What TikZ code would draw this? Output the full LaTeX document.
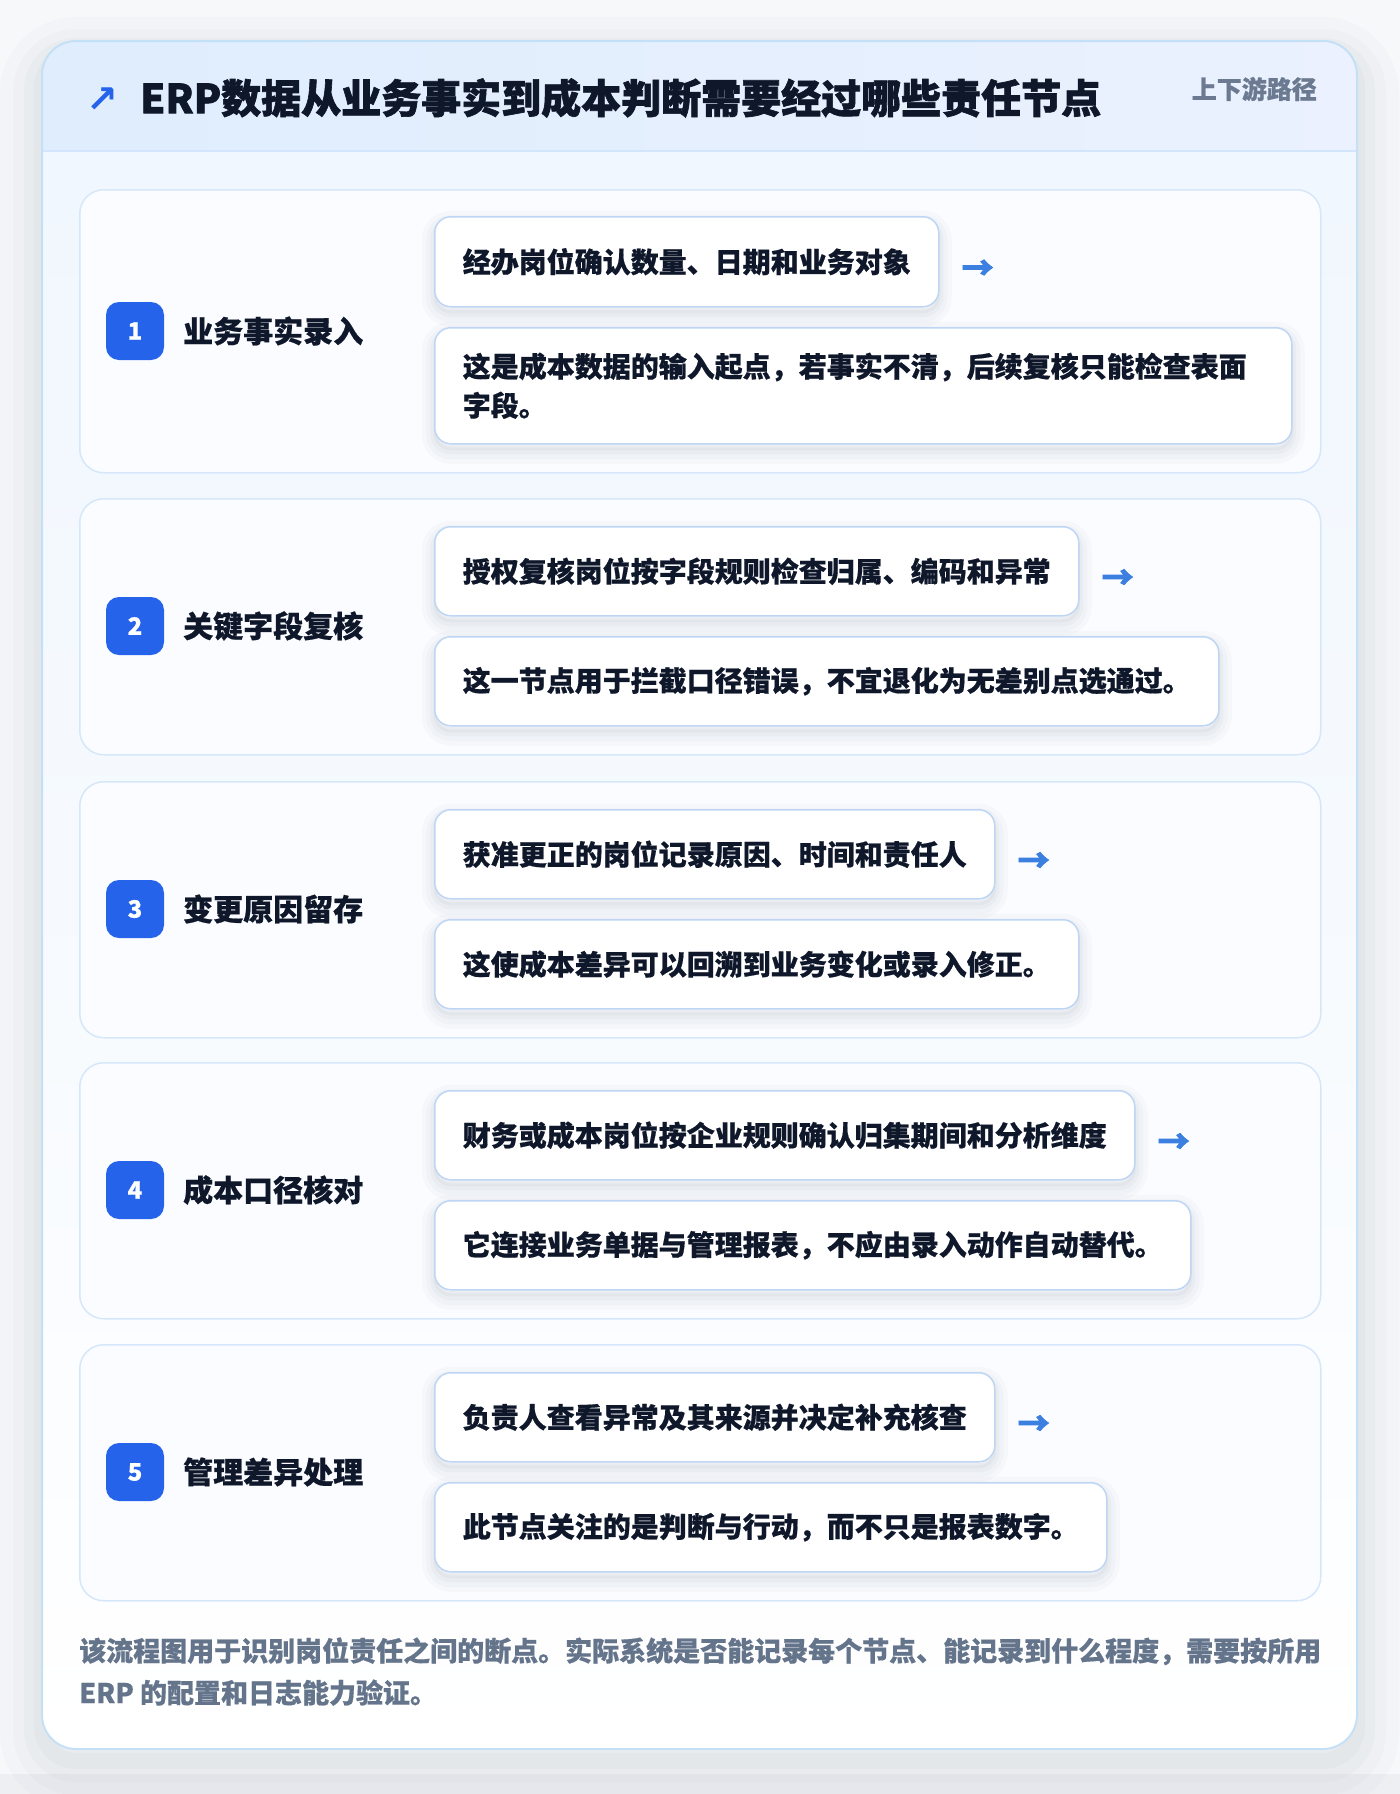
\documentclass[tikz,border=0pt]{standalone}
\usepackage{fontspec}
\setmainfont{Noto Sans CJK SC}[BoldFeatures={FakeBold=0.6}]
\newfontfamily\heavyfont{Noto Sans CJK SC}[BoldFeatures={FakeBold=1.6}]
\newfontfamily\arrowfont{Noto Sans CJK SC}[BoldFeatures={FakeBold=2.5}]
\newfontfamily\symfont{DejaVu Sans}

\definecolor{pagebg}{HTML}{F7F8FA}
\definecolor{pagebot}{HTML}{EEEFF3}
\definecolor{cardline}{HTML}{C4E0F6}
\definecolor{hdrL}{HTML}{DFEDFD}
\definecolor{hdrR}{HTML}{EBF1FE}
\definecolor{hdrline}{HTML}{D3E5FA}
\definecolor{bodytop}{HTML}{F1F7FE}
\definecolor{stepfill}{HTML}{FAFCFF}
\definecolor{stepline}{HTML}{D6E7FA}
\definecolor{boxline}{HTML}{BED6F4}
\definecolor{badge}{HTML}{2563EB}
\definecolor{ink}{HTML}{0F172A}
\definecolor{muted}{HTML}{64748B}
\definecolor{tagc}{HTML}{6B7A90}
\definecolor{arrowc}{HTML}{3B7FE0}
\definecolor{shadowc}{HTML}{1E293B}

\tikzset{
  softshadow/.style={
    preaction={draw=shadowc, draw opacity=0.018, line width=26pt, transform canvas={yshift=-7pt}},
    preaction={draw=shadowc, draw opacity=0.022, line width=17pt, transform canvas={yshift=-7pt}},
    preaction={draw=shadowc, draw opacity=0.028, line width=9pt, transform canvas={yshift=-6pt}},
    preaction={draw=shadowc, draw opacity=0.03, line width=3pt, transform canvas={yshift=-5pt}}},
  stepcard/.style={draw=stepline, line width=1.5pt, fill=stepfill, rounded corners=24pt,
    anchor=north west, minimum width=1241pt, inner sep=0pt},
  infobox/.style={softshadow, draw=boxline, line width=1.5pt, fill=white, rounded corners=16pt,
    inner xsep=28pt, inner ysep=0pt, anchor=north west, align=left,
    font=\fontsize{28}{39}\selectfont\bfseries, text=ink},
  badgebox/.style={fill=badge, rounded corners=13pt, minimum size=58pt, inner sep=0pt,
    text=white, font=\fontsize{24}{24}\selectfont\bfseries},
  steptitle/.style={anchor=west, inner sep=0pt, text=ink, font=\fontsize{30}{30}\selectfont\bfseries},
  nextarrow/.style={anchor=west, text=arrowc, inner sep=0pt, font=\arrowfont\fontsize{32}{32}\selectfont\bfseries}
}

\begin{document}
\begin{tikzpicture}[x=1pt,y=-1pt]
\useasboundingbox (0,0) rectangle (1400,1794);
\fill[pagebg] (0,0) rectangle (1400,1794);
\fill[pagebot] (0,1774) rectangle (1400,1794);

% card with soft shadow
\path[fill=white, rounded corners=34pt,
  preaction={draw=shadowc, draw opacity=0.014, line width=84pt, transform canvas={yshift=-18pt}},
  preaction={draw=shadowc, draw opacity=0.018, line width=58pt, transform canvas={yshift=-17pt}},
  preaction={draw=shadowc, draw opacity=0.02, line width=36pt, transform canvas={yshift=-15pt}},
  preaction={draw=shadowc, draw opacity=0.022, line width=16pt, transform canvas={yshift=-12pt}}]
  (42,41) rectangle (1357,1749);
\begin{scope}
  \clip[rounded corners=34pt] (42,41) rectangle (1357,1749);
  \shade[top color=bodytop, bottom color=white, middle color=bodytop!60!white] (42,151) rectangle (1357,1749);
  \shade[left color=hdrL, right color=hdrR] (42,41) rectangle (1357,151);
  \draw[hdrline, line width=2pt] (42,151) -- (1357,151);
\end{scope}
\draw[cardline, line width=2pt, rounded corners=34pt] (42,41) rectangle (1357,1749);

% header
\node[text=badge, font=\symfont\bfseries\fontsize{38}{38}\selectfont, inner sep=0pt] (icon) at (102,100) {↗};
\node[anchor=west, inner sep=0pt, text=ink, font=\heavyfont\fontsize{40}{42}\selectfont\bfseries] (title) at (140,98)
  {ERP数据从业务事实到成本判断需要经过哪些责任节点};
\node[anchor=east, inner sep=0pt, text=tagc, font=\fontsize{25}{26}\selectfont\bfseries] (tag) at (1317,89) {上下游路径};

% step 1
\node[stepcard, minimum height=283pt] (s1) at (79,189) {};
\node[badgebox] (b1) at (135,331) {1};
\node[steptitle] (t1) at (183,331) {业务事实录入};
\node[infobox, minimum height=90pt] (a1) at (434,216) {经办岗位确认数量、日期和业务对象};
\node[nextarrow] (r1) at ([xshift=22pt,yshift=-8pt]a1.east) {→};
\node[infobox, minimum height=116pt, text width=801pt] (c1) at (434,327)
  {这是成本数据的输入起点，若事实不清，后续复核只能检查表面\\字段。};

% step 2
\node[stepcard, minimum height=256pt] (s2) at (79,498) {};
\node[badgebox] (b2) at (135,626) {2};
\node[steptitle] (t2) at (183,626) {关键字段复核};
\node[infobox, minimum height=89pt] (a2) at (434,526) {授权复核岗位按字段规则检查归属、编码和异常};
\node[nextarrow] (r2) at ([xshift=22pt,yshift=-8pt]a2.east) {→};
\node[infobox, minimum height=89pt] (c2) at (434,636) {这一节点用于拦截口径错误，不宜退化为无差别点选通过。};

% step 3
\node[stepcard, minimum height=256pt] (s3) at (79,781) {};
\node[badgebox] (b3) at (135,909) {3};
\node[steptitle] (t3) at (183,909) {变更原因留存};
\node[infobox, minimum height=89pt] (a3) at (434,809) {获准更正的岗位记录原因、时间和责任人};
\node[nextarrow] (r3) at ([xshift=22pt,yshift=-8pt]a3.east) {→};
\node[infobox, minimum height=89pt] (c3) at (434,919) {这使成本差异可以回溯到业务变化或录入修正。};

% step 4
\node[stepcard, minimum height=256pt] (s4) at (79,1062) {};
\node[badgebox] (b4) at (135,1190) {4};
\node[steptitle] (t4) at (183,1190) {成本口径核对};
\node[infobox, minimum height=89pt] (a4) at (434,1090) {财务或成本岗位按企业规则确认归集期间和分析维度};
\node[nextarrow] (r4) at ([xshift=22pt,yshift=-8pt]a4.east) {→};
\node[infobox, minimum height=89pt] (c4) at (434,1200) {它连接业务单据与管理报表，不应由录入动作自动替代。};

% step 5
\node[stepcard, minimum height=256pt] (s5) at (79,1344) {};
\node[badgebox] (b5) at (135,1472) {5};
\node[steptitle] (t5) at (183,1472) {管理差异处理};
\node[infobox, minimum height=89pt] (a5) at (434,1372) {负责人查看异常及其来源并决定补充核查};
\node[nextarrow] (r5) at ([xshift=22pt,yshift=-8pt]a5.east) {→};
\node[infobox, minimum height=89pt] (c5) at (434,1482) {此节点关注的是判断与行动，而不只是报表数字。};

% footer
\node[anchor=base west, inner sep=0pt, align=left, text=muted, font=\fontsize{27}{42}\selectfont\bfseries] (foot) at (79,1703)
  {该流程图用于识别岗位责任之间的断点。实际系统是否能记录每个节点、能记录到什么程度，需要按所用\\ERP 的配置和日志能力验证。};
\end{tikzpicture}
\end{document}
